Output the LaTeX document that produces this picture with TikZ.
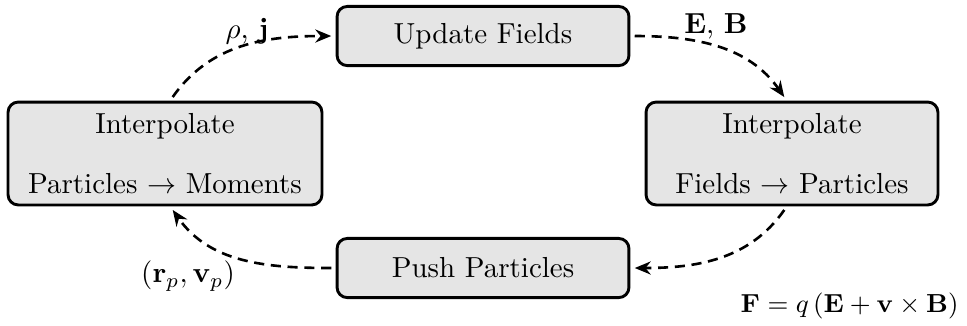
\documentclass[tikz,border=0pt]{standalone}
\usetikzlibrary{arrows.meta}
\begin{document}
\begin{tikzpicture}[x=0.345pt,y=-0.345pt,
  stagebox/.style={draw=black, line width=1pt, fill=gray!20, rounded corners=3.5pt,
    align=center, inner sep=3pt, minimum width=100.7pt},
  smallstage/.style={stagebox, minimum height=20.4pt},
  widestage/.style={stagebox, minimum height=35.5pt},
  flow/.style={line width=0.9pt, dash pattern=on 3.5pt off 2.3pt,
    -{Stealth[length=5.5pt,width=4.5pt,inset=1.8pt]},
    shorten >=1.5pt, shorten <=1.5pt},
  qty/.style={inner sep=1pt}]
  \useasboundingbox (0,0) rectangle (967,325);

  % the four stages of one cycle
  \node[smallstage] (upd)  at (483,36)    {Update Fields};
  \node[smallstage] (push) at (483,268)   {Push Particles};
  \node[widestage, minimum width=108.3pt] (p2m) at (165,153.5)
    {Interpolate\\[8.7pt]Particles $\to$ Moments};
  \node[widestage]  (f2p)  at (792,153.5) {Interpolate\\[8.7pt]Fields $\to$ Particles};

  % connectors around the cycle
  \draw[flow] ([xshift=1.8pt]p2m.north) to[out=55,in=180] (upd.west);
  \draw[flow] (upd.east) to[out=0,in=125] ([xshift=-1.8pt]f2p.north);
  \draw[flow] ([xshift=-1.8pt]f2p.south) to[out=-125,in=0] (push.east);
  \draw[flow] (push.west) to[out=180,in=-55] ([xshift=1.8pt]p2m.south);

  % exchanged quantities
  \node[qty] (rhoj) at (247,31)  {$\rho$, $\mathbf{j}$};
  \node[qty] (eb)   at (716,26)  {$\mathbf{E}$, $\mathbf{B}$};
  \node[qty] (rv)   at (188,276) {$(\mathbf{r}_p, \mathbf{v}_p)$};
  \node[qty, anchor=east, font=\small] (lor) at (962,306)
    {$\mathbf{F} = q\left(\mathbf{E} + \mathbf{v}\times\mathbf{B}\right)$};
\end{tikzpicture}
\end{document}
